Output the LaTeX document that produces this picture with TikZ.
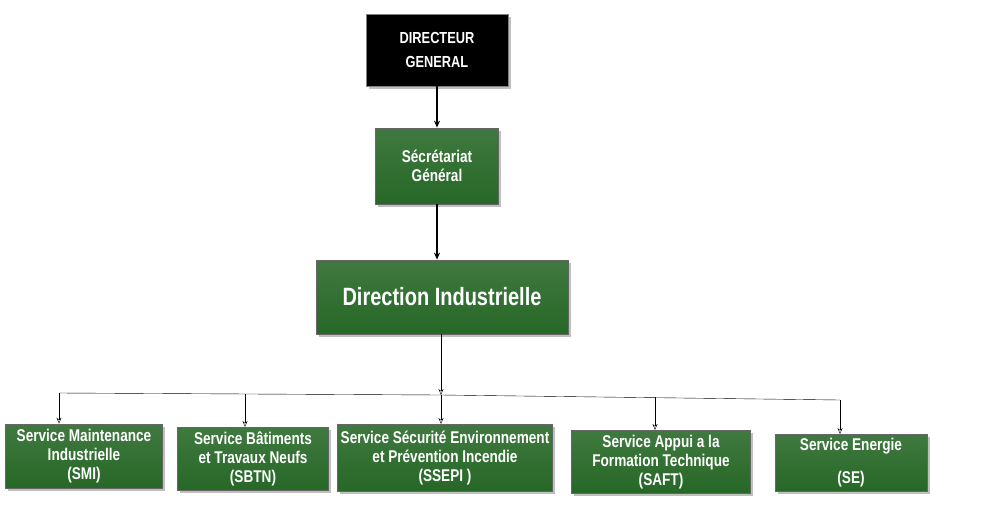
\documentclass[tikz,border=0pt]{standalone}
\usepackage{fontspec}
\setmainfont{Liberation Sans}[FakeStretch=0.8]
\usetikzlibrary{shadows,arrows.meta}
\begin{document}
\begin{tikzpicture}[x=1pt,y=-1pt,>={Stealth[length=7pt,width=6pt]}]
  \tikzstyle{service}=[draw=black!60,thick,top color=green!30!black!75,bottom color=green!30!black!85,text=white,font=\bfseries\fontsize{17}{19}\selectfont,align=center,inner sep=2pt,drop shadow={opacity=0.5}]
  \tikzstyle{link}=[draw,very thick,->]
  \tikzstyle{branch}=[draw,->,>={Stealth[length=6pt,width=5pt,open]}]
  \useasboundingbox (0,0) rectangle (1000,525);
  \node [service,fill=black,top color=black,bottom color=black,draw=black!50,font=\bfseries\fontsize{16}{24}\selectfont,minimum width=142,minimum height=72] (dg) at (437,50) {DIRECTEUR\\GENERAL};
  \node [service,minimum width=123,minimum height=76] (sg) at (437,166) {Sécrétariat\\ Général};
  \node [service,font=\bfseries\fontsize{25}{27}\selectfont,minimum width=252,minimum height=74] (di) at (442,297) {Direction Industrielle};
  \node [service,minimum width=157,minimum height=64] (smi) at (84,456) {Service Maintenance\\Industrielle\\(SMI)};
  \node [service,minimum width=151,minimum height=63] (sbtn) at (253,459) {Service Bâtiments\\et Travaux Neufs\\(SBTN)};
  \node [service,minimum width=215,minimum height=67] (ssepi) at (445,458) {Service Sécurité Environnement\\et Prévention Incendie\\(SSEPI )};
  \node [service,minimum width=179,minimum height=63] (saft) at (661,462) {Service Appui a la\\Formation Technique\\(SAFT)};
  \node [service,minimum width=152,minimum height=57] (se) at (851,463) {Service Energie\\[14pt](SE)};
  \coordinate (bl) at (59,393);
  \coordinate (bm) at (441,395);
  \coordinate (br) at (840,400);
  \path[link] (dg) -- (sg);
  \path[link] (sg) -- (sg|-di.north);
  \path[branch] (di.south-|bm) -- (bm);
  \draw (bl) -- (bm) -- (br);
  \path[branch] (bl) -- (bl|-smi.north);
  \path[branch] (245,394) -- (245,427);
  \path[branch] (bm) -- (441,424);
  \path[branch] (655,397) -- (655,430);
  \path[branch] (br) -- (br|-se.north);
\end{tikzpicture}
\end{document}
